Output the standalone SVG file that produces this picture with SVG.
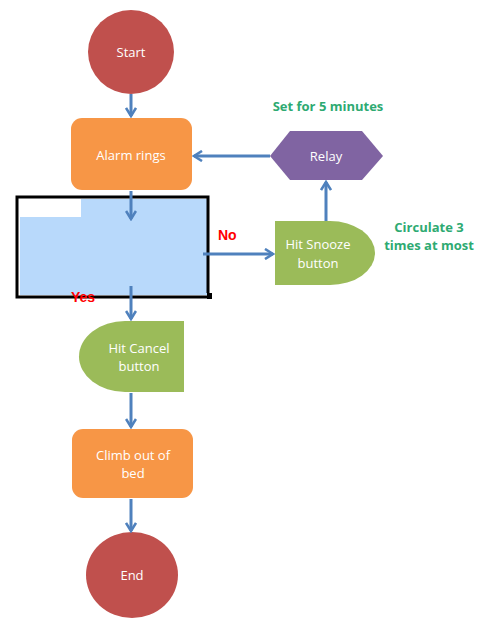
<svg xmlns="http://www.w3.org/2000/svg" width="477" height="625" viewBox="0 0 477 625">
<style>
.lbl{font-family:"Open Sans","Liberation Sans",sans-serif;font-size:13px;fill:#ffffff;text-anchor:middle}
.note{font-family:"Open Sans","Liberation Sans",sans-serif;font-size:13px;font-weight:bold;fill:#2eaa72;text-anchor:middle}
.red{font-family:"Liberation Sans",Arial,sans-serif;font-size:14px;font-weight:bold;fill:#ff0000}
.conn{stroke:#4f81bd;stroke-width:3;fill:none;marker-end:url(#ah)}
</style>
<defs>
<marker id="ah" viewBox="0 0 12 12" refX="10" refY="6" markerWidth="12" markerHeight="12" markerUnits="userSpaceOnUse" orient="auto">
<polyline points="2,1 10,6 2,11" fill="none" stroke="#4f81bd" stroke-width="2.6" stroke-linejoin="miter"/>
</marker>
</defs>
<rect width="477" height="625" fill="#ffffff"/>
<g id="decision">
<rect x="20" y="199" width="187" height="96" fill="#b8d9fb"/>
<rect x="20" y="199" width="61" height="18" fill="#ffffff"/>
<path d="M208,293 V197 H17 V297 H208" fill="none" stroke="#000000" stroke-width="3"/>
<rect x="207" y="293" width="5" height="6" fill="#000000"/>
</g>
<g id="start">
<ellipse cx="131" cy="52" rx="43" ry="42" fill="#c0504d"/>
<text class="lbl" x="131" y="57">Start</text>
</g>
<g id="alarm">
<rect x="71" y="118" width="121" height="72" rx="11" fill="#f79646"/>
<text class="lbl" x="131" y="160">Alarm rings</text>
</g>
<g id="relay">
<polygon points="270,156 290,131 362,131 383,156 362,180 290,180" fill="#8064a2"/>
<text class="lbl" x="326" y="161">Relay</text>
</g>
<g id="snooze">
<path d="M275,221 H330 A45,32 0 0 1 330,285 H275 Z" fill="#9bbb59"/>
<text class="lbl" x="318" y="249">Hit Snooze</text>
<text class="lbl" x="318" y="268">button</text>
</g>
<g id="cancel">
<path d="M184,321 H125 A46,35.5 0 0 0 125,392 H184 Z" fill="#9bbb59"/>
<text class="lbl" x="139" y="353">Hit Cancel</text>
<text class="lbl" x="139" y="371">button</text>
</g>
<g id="climb">
<rect x="72" y="429" width="121" height="69" rx="11" fill="#f79646"/>
<text class="lbl" x="133" y="460">Climb out of</text>
<text class="lbl" x="133" y="478">bed</text>
</g>
<g id="end">
<ellipse cx="132" cy="575" rx="46" ry="43" fill="#c0504d"/>
<text class="lbl" x="132" y="580">End</text>
</g>
<g id="labels">
<text class="note" x="328" y="111">Set for 5 minutes</text>
<text class="note" x="429" y="232">Circulate 3</text>
<text class="note" x="429" y="250">times at most</text>
<text class="red" x="218" y="240">No</text>
<text class="red" x="71" y="302">Yes</text>
</g>
<g id="connectors">
<line class="conn" x1="131" y1="94" x2="131" y2="116"/>
<line class="conn" x1="131" y1="191" x2="131" y2="219"/>
<line class="conn" x1="203" y1="254" x2="273" y2="254"/>
<line class="conn" x1="326" y1="221" x2="326" y2="182"/>
<line class="conn" x1="270" y1="156" x2="194" y2="156"/>
<line class="conn" x1="131" y1="286" x2="131" y2="319"/>
<line class="conn" x1="131" y1="393" x2="131" y2="427"/>
<line class="conn" x1="131" y1="499" x2="131" y2="531"/>
</g>
</svg>
